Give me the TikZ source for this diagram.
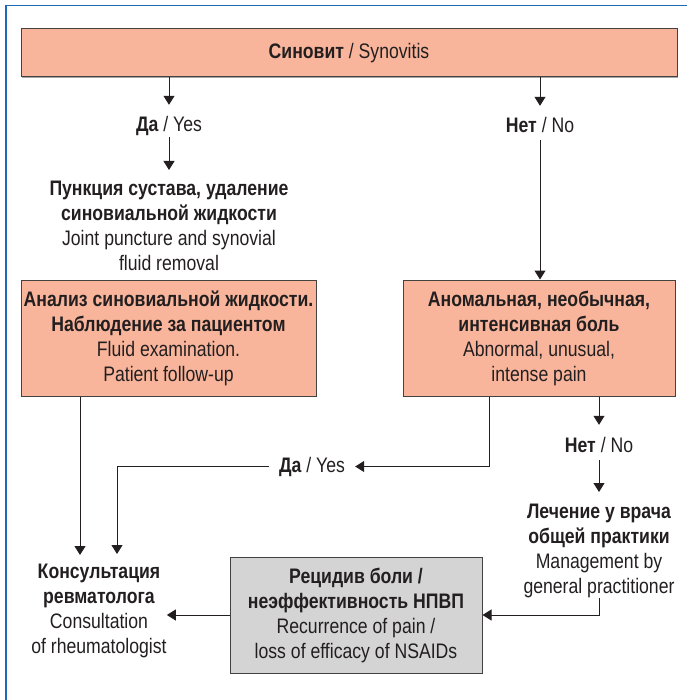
\documentclass[tikz,border=0pt]{standalone}
\usepackage{fontspec}
\setmainfont{Liberation Sans}[FakeStretch=0.84]
\usepackage{xcolor}
\usetikzlibrary{
  positioning,
  arrows.meta,
  shadows
}
\definecolor{salmon}{RGB}{248,181,155}
\definecolor{lightgrey}{RGB}{212,212,212}
\definecolor{frameblue}{RGB}{28,106,184}
\definecolor{ink}{RGB}{35,31,32}

\begin{document}
\begin{tikzpicture}[
  x=1pt, y=-1pt,
  font=\fontsize{21}{25}\selectfont,
  every node/.style={text=ink},
  box/.style={
    draw=ink!85,
    line width=1pt,
    fill=salmon,
    align=center,
    inner sep=0pt,
    drop shadow={shadow xshift=1.3pt, shadow yshift=-1.3pt, fill=black!35, opacity=1}
  },
  recurbox/.style={box, fill=lightgrey},
  txt/.style={align=center, inner sep=0pt},
  lbl/.style={inner sep=0pt, text height=15pt, text depth=4pt},
  arrow/.style={-{Triangle[length=9pt, width=11pt]}, line width=1pt, draw=ink},
  outerframe/.style={draw=frameblue, line width=1.8pt}
]
\useasboundingbox (0,0) rectangle (687,700);

% Frame
\draw[outerframe] (6,700) -- (6,5.5) -- (687,5.5);

% Boxes
\node[box, minimum width=656pt, minimum height=48pt] (synov) at (349,53) {\textbf{Синовит} / Synovitis};
\node[box, minimum width=295pt, minimum height=116pt] (anal) at (168.5,338) {\textbf{Анализ синовиальной жидкости.}\\\textbf{Наблюдение за пациентом}\\Fluid examination.\\Patient follow-up};
\node[box, minimum width=272pt, minimum height=116pt] (abn) at (539,338) {\textbf{Аномальная, необычная,}\\\textbf{интенсивная боль}\\Abnormal, unusual,\\intense pain};
\node[recurbox, minimum width=252pt, minimum height=116pt] (recur) at (356,615) {\textbf{Рецидив боли /}\\\textbf{неэффективность НПВП}\\Recurrence of pain /\\loss of efficacy of NSAIDs};

% Free text
\node[txt, anchor=north] (punct) at (169,181) {\textbf{Пункция сустава, удаление}\\\textbf{синовиальной жидкости}\\Joint puncture and synovial\\fluid removal};
\node[txt, anchor=north] (gp) at (599,504) {\textbf{Лечение у врача}\\\textbf{общей практики}\\Management by\\general practitioner};
\node[txt, anchor=north] (consult) at (99,564) {\textbf{Консультация}\\\textbf{ревматолога}\\Consultation\\of rheumatologist};

% Labels
\node[lbl, anchor=base] (yes1) at (169,132) {\textbf{Да} / Yes};
\node[lbl, anchor=base] (no1) at (540,133) {\textbf{Нет} / No};
\node[lbl, anchor=base] (no2) at (599,452) {\textbf{Нет} / No};
\node[lbl, anchor=base] (yes2) at (312,472) {\textbf{Да} / Yes};

% Arrows
\draw[arrow, shorten >=12pt] (synov.south -| yes1) -- (yes1.north);
\draw[arrow, shorten <=1pt, shorten >=11pt] (yes1.south) -- (punct.north);
\draw[arrow, shorten >=12pt] (synov.south -| no1) -- (no1.north);
\draw[arrow, shorten <=3pt] (no1.south) -- (no1.south |- abn.north);
\draw[arrow, shorten >=12pt] (abn.south -| no2) -- (no2.north);
\draw[arrow, shorten <=4pt, shorten >=12pt] (no2.south) -- (gp.north);
\draw[arrow] (gp.south) |- (recur.east);
\draw[arrow] (recur.west) -- (recur.west -| consult.east);
\draw[arrow, shorten >=10pt] ([xshift=-50pt]abn.south) |- (yes2.east);
\draw[arrow, shorten <=10pt, shorten >=10pt] (yes2.west) -| ([xshift=18pt]consult.north);
\draw[arrow, shorten >=9pt] ([xshift=-19pt]consult.north |- anal.south) -- ([xshift=-19pt]consult.north);

\end{tikzpicture}
\end{document}
